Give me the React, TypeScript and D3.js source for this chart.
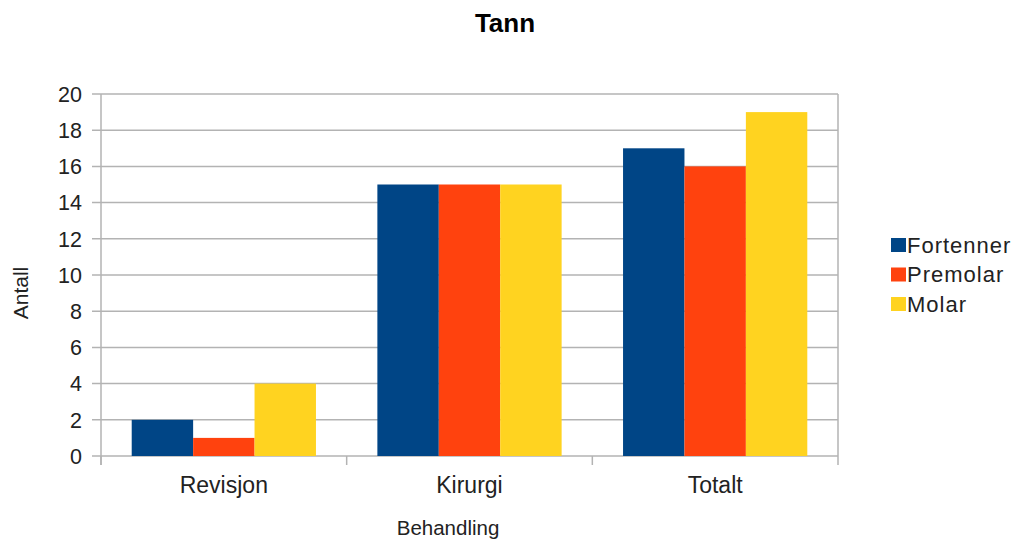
import * as d3 from 'd3';

const categories = ['Revisjon', 'Kirurgi', 'Totalt'];
const seriesNames = ['Fortenner', 'Premolar', 'Molar'];
const fortenner = [2, 15, 17];
const premolar = [1, 15, 16];
const molar = [4, 15, 19];
const yTicks = [0, 2, 4, 6, 8, 10, 12, 14, 16, 18, 20];

const COLORS = ['#004586', '#ff420e', '#ffd320'];
const FONT = '"Liberation Sans", Arial, sans-serif';
const TEXT = '#222';

export default function App() {
  const width = 1016;
  const height = 539;
  const margin = { left: 101, right: 178, top: 94, bottom: 83 };
  const chartW = width - margin.left - margin.right;
  const chartH = height - margin.top - margin.bottom;

  const series = [fortenner, premolar, molar];

  const x0 = d3.scaleBand<string>().domain(categories).range([0, chartW]).paddingInner(0).paddingOuter(0);
  const x1 = d3.scaleBand<string>()
    .domain(seriesNames)
    .range([0, x0.bandwidth()])
    .paddingOuter(0.5)
    .paddingInner(0);
  const y = d3.scaleLinear().domain([0, 20]).range([chartH, 0]);

  const grid = '#b3b3b3';

  return (
    <svg width={width} height={height} style={{ position: 'absolute', left: 0, top: 0, background: '#fff' }}>
      <text x={505} y={32} textAnchor="middle" fontFamily={FONT} fontWeight="bold" fontSize={26}>Tann</text>
      <g transform={`translate(${margin.left},${margin.top})`}>
        {yTicks.map((t) => (
          <g key={t}>
            <line x1={-9} x2={chartW} y1={y(t)} y2={y(t)} stroke={grid} strokeWidth={1.5} />
            <text x={-19} y={y(t)} dy="0.36em" textAnchor="end" fontFamily={FONT} fontSize={21.5} fill={TEXT}>{t}</text>
          </g>
        ))}
        <line x1={0} x2={0} y1={0} y2={chartH + 9} stroke={grid} strokeWidth={1.5} />
        <line x1={chartW} x2={chartW} y1={0} y2={chartH + 9} stroke={grid} strokeWidth={1.5} />
        {categories.map((c) => (
          <line key={c} x1={x0(c)!} x2={x0(c)!} y1={chartH} y2={chartH + 9} stroke={grid} strokeWidth={1.5} />
        ))}
        {categories.map((c, ci) => (
          <g key={c} transform={`translate(${x0(c)},0)`}>
            {seriesNames.map((s, si) => (
              <rect
                key={s}
                x={x1(s)}
                y={y(series[si][ci])}
                width={x1.bandwidth()}
                height={chartH - y(series[si][ci])}
                fill={COLORS[si]}
              />
            ))}
            <text x={x0.bandwidth() / 2} y={chartH + 37} textAnchor="middle" fontFamily={FONT} fontSize={23} fill={TEXT}>{c}</text>
          </g>
        ))}
      </g>
      <text x={448} y={535} textAnchor="middle" fontFamily={FONT} fontSize={20.5} fill={TEXT}>Behandling</text>
      <text transform="translate(28,293) rotate(-90)" textAnchor="middle" fontFamily={FONT} fontSize={21} fill={TEXT}>Antall</text>
      {seriesNames.map((s, i) => (
        <g key={s} transform={`translate(891,${245 + i * 29.5})`}>
          <rect x={0} y={-7} width={15} height={14} fill={COLORS[i]} />
          <text x={16} y={0} dy="0.36em" fontFamily={FONT} fontSize={22} letterSpacing={1} fill={TEXT}>{s}</text>
        </g>
      ))}
    </svg>
  );
}
